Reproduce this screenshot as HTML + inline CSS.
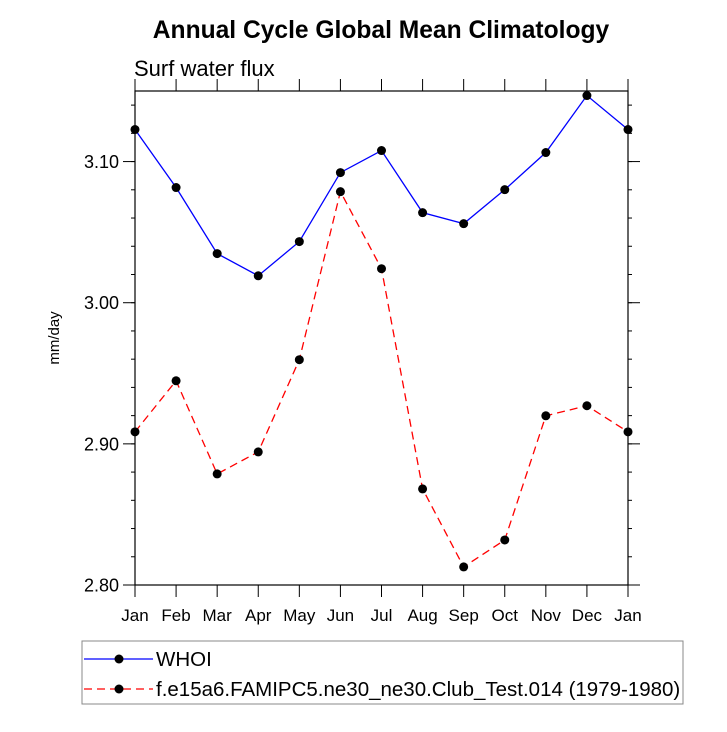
<!DOCTYPE html>
<html><head><meta charset="utf-8"><style>
body{margin:0;background:#fff}
svg{font-family:"Liberation Sans",sans-serif}
</style></head><body>
<svg id="chart" width="727" height="727" viewBox="0 0 727 727">
<text x="381" y="38" text-anchor="middle" font-size="24.6" font-weight="bold">Annual Cycle Global Mean Climatology</text>
<text x="134" y="76" font-size="22">Surf water flux</text>
<text transform="translate(59,338) rotate(-90)" text-anchor="middle" font-size="15">mm/day</text>
<g id="axes"></g>
<g id="series"></g>
<rect x="82" y="641" width="601" height="63" fill="none" stroke="#888" stroke-width="1"/>
<g>
<line x1="84" y1="659" x2="153" y2="659" stroke="#0000ff" stroke-width="1.3"/>
<circle cx="119" cy="659" r="4.5" fill="#000"/>
<text x="156" y="666" font-size="20.5">WHOI</text>
</g>
<g>
<line x1="84" y1="689" x2="153" y2="689" stroke="#ff0000" stroke-width="1.3" stroke-dasharray="8,5"/>
<circle cx="119" cy="689" r="4.5" fill="#000"/>
<text x="156" y="696" font-size="20.5">f.e15a6.FAMIPC5.ne30_ne30.Club_Test.014 (1979-1980)</text>
</g>
</svg>
<script>
const months=["Jan","Feb","Mar","Apr","May","Jun","Jul","Aug","Sep","Oct","Nov","Dec","Jan"];
const whoi=[3.1227,3.0816,3.0348,3.0191,3.0433,3.0922,3.1078,3.0638,3.0560,3.0801,3.1064,3.1468,3.1227];
const model=[2.9085,2.9447,2.8787,2.8943,2.9596,3.0787,3.0241,2.8681,2.8128,2.8319,2.9199,2.9270,2.9085];
const yTicks=[2.80,2.90,3.00,3.10];
const yTickLabels=["2.80","2.90","3.00","3.10"];
const L=135,R=628,T=91,B=585,yMin=2.80,yMax=3.15;
const NS="http://www.w3.org/2000/svg";
const xs=i=>L+(R-L)*i/(months.length-1);
const ys=v=>B-(v-yMin)/(yMax-yMin)*(B-T);
function mk(tag,attrs,parent){const e=document.createElementNS(NS,tag);for(const k in attrs)e.setAttribute(k,attrs[k]);parent.appendChild(e);return e;}
const ax=document.getElementById('axes');
const frame=mk('rect',{x:L,y:T,width:R-L,height:B-T,fill:'none',stroke:'#000','stroke-width':1.2},ax);


months.forEach((m,i)=>{
  const x=xs(i);
  mk('line',{x1:x,y1:B,x2:x,y2:B+12,stroke:'#000','stroke-width':1},ax);
  mk('line',{x1:x,y1:T,x2:x,y2:T-12,stroke:'#000','stroke-width':1},ax);
  const t=mk('text',{x:x,y:621,'text-anchor':'middle','font-size':17},ax);
  t.textContent=m;
  
  
});
for(let v=yMin;v<=yMax+1e-9;v+=0.02){
  const y=ys(v);
  mk('line',{x1:L,y1:y,x2:L-4,y2:y,stroke:'#000','stroke-width':1},ax);
  mk('line',{x1:R,y1:y,x2:R+4,y2:y,stroke:'#000','stroke-width':1},ax);
}
yTicks.forEach((v,i)=>{
  const y=ys(v);
  mk('line',{x1:L,y1:y,x2:L-12,y2:y,stroke:'#000','stroke-width':1},ax);
  mk('line',{x1:R,y1:y,x2:R+12,y2:y,stroke:'#000','stroke-width':1},ax);
  const t=mk('text',{x:L-16,y:y+6.5,'text-anchor':'end','font-size':18},ax);
  t.textContent=yTickLabels[i];
  
  
});
const sg=document.getElementById('series');
function drawSeries(vals,color,dash,name){
  const g=mk('g',{},sg);
  
  
  const pts=vals.map((v,i)=>xs(i)+','+ys(v)).join(' ');
  const attrs={points:pts,fill:'none',stroke:color,'stroke-width':1.3};
  if(dash)attrs['stroke-dasharray']=dash;
  mk('polyline',attrs,g);
  vals.forEach((v,i)=>{
    const c=mk('circle',{cx:xs(i),cy:ys(v),r:4.5,fill:'#000'},g);
    
    
  });
}
drawSeries(whoi,'#0000ff',null,'whoi-series');
drawSeries(model,'#ff0000','8,5','model-series');
</script>
</body></html>
